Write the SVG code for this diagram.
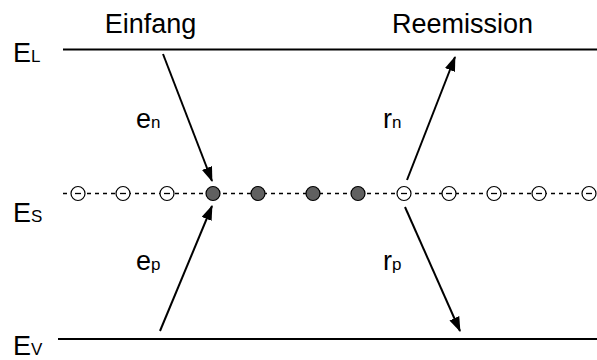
<svg xmlns="http://www.w3.org/2000/svg" width="597" height="360" viewBox="0 0 597 360">
<style>
text{font-family:"Liberation Sans",Arial,sans-serif;fill:#000}
.big{font-size:27px}
.sub{font-size:17px}
.lvl{stroke:#000;stroke-width:2;fill:none}
.dot{stroke:#000;stroke-width:1.5;stroke-dasharray:4,4;fill:none}
.e{fill:#fff;stroke:#000;stroke-width:1.2}
.f{fill:#606060;stroke:#000;stroke-width:1.2}
.arr{stroke:#000;stroke-width:2;marker-end:url(#ah)}
</style>
<defs>
<marker id="ah" viewBox="0 0 14 10" refX="13" refY="5" markerWidth="15" markerHeight="11" markerUnits="userSpaceOnUse" orient="auto">
<path d="M0,0 L14,5 L0,10 z" fill="#000"/>
</marker>
</defs>
<g id="labels">
<text x="150.5" y="33" class="big" text-anchor="middle">Einfang</text>
<text x="462.5" y="33" class="big" text-anchor="middle">Reemission</text>
<text x="13" y="62" class="big">E<tspan class="sub">L</tspan></text>
<text x="13" y="222" class="big">E<tspan class="sub">S</tspan></text>
<text x="13" y="355" class="big">E<tspan class="sub">V</tspan></text>
<text x="136" y="128" class="big">e<tspan class="sub">n</tspan></text>
<text x="136" y="270" class="big">e<tspan class="sub">p</tspan></text>
<text x="383" y="128" class="big">r<tspan class="sub">n</tspan></text>
<text x="383" y="270" class="big">r<tspan class="sub">p</tspan></text>
</g>
<g id="levels">
<line class="lvl" x1="63" y1="49.5" x2="597" y2="49.5"/>
<line class="lvl" x1="58" y1="339" x2="597" y2="339"/>
<line class="dot" x1="63" y1="193.5" x2="597" y2="193.5"/>
</g>
<g id="states">
<circle class="e" cx="78" cy="193.5" r="7"/>
<circle class="e" cx="123" cy="193.5" r="7"/>
<circle class="e" cx="167" cy="193.5" r="7"/>
<circle class="f" cx="213" cy="193.5" r="7"/>
<circle class="f" cx="258" cy="193.5" r="7"/>
<circle class="f" cx="313" cy="193.5" r="7"/>
<circle class="f" cx="358" cy="193.5" r="7"/>
<circle class="e" cx="404" cy="193.5" r="7"/>
<circle class="e" cx="449" cy="193.5" r="7"/>
<circle class="e" cx="494" cy="193.5" r="7"/>
<circle class="e" cx="539" cy="193.5" r="7"/>
<circle class="e" cx="589" cy="193.5" r="7"/>
<g stroke="#000" stroke-width="1.3">
<line x1="75" y1="193.5" x2="81" y2="193.5"/>
<line x1="120" y1="193.5" x2="126" y2="193.5"/>
<line x1="164" y1="193.5" x2="170" y2="193.5"/>
<line x1="401" y1="193.5" x2="407" y2="193.5"/>
<line x1="446" y1="193.5" x2="452" y2="193.5"/>
<line x1="491" y1="193.5" x2="497" y2="193.5"/>
<line x1="536" y1="193.5" x2="542" y2="193.5"/>
<line x1="586" y1="193.5" x2="592" y2="193.5"/>
</g>
</g>
<g id="connectors">
<line class="arr" x1="163" y1="54" x2="212" y2="181"/>
<line class="arr" x1="160" y1="331" x2="212" y2="206"/>
<line class="arr" x1="407" y1="180" x2="455" y2="57"/>
<line class="arr" x1="405" y1="207" x2="460" y2="331"/>
</g>
</svg>
